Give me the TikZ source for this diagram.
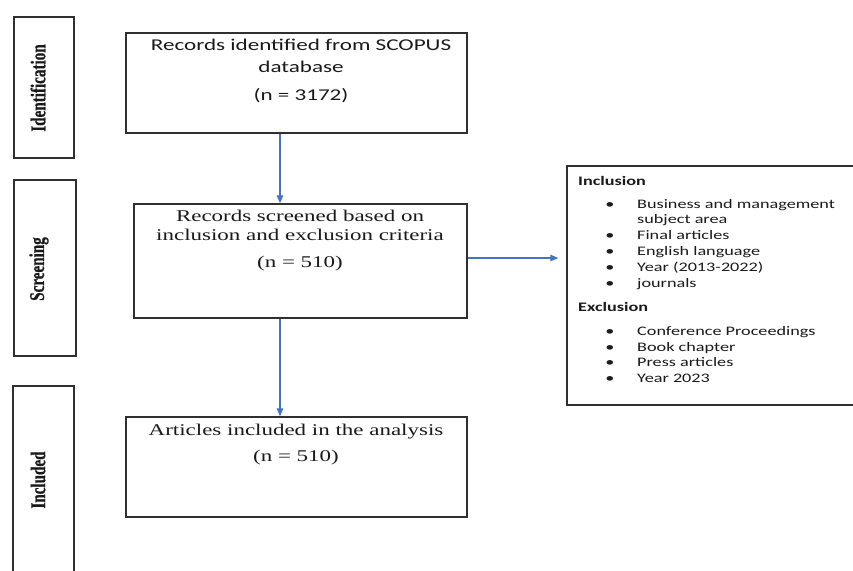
\documentclass[tikz,border=0pt]{standalone}
\usepackage{fontspec}
\setmainfont{Liberation Serif}
\newfontfamily\srfwide[FakeStretch=1.4]{Liberation Serif}
\newfontfamily\calwide[FakeStretch=1.4]{Carlito}
\newfontfamily\lblnarrow[FakeStretch=0.72,FakeBold=0.6]{Liberation Serif}
\usetikzlibrary{arrows.meta,calc}
\definecolor{arrowblue}{HTML}{4472C4}
\definecolor{frame}{HTML}{303030}
\definecolor{ink}{HTML}{1A1A1A}
\begin{document}
\begin{tikzpicture}[x=1pt,y=-1pt,
  box/.style={draw=frame,line width=1.4pt,rectangle,inner sep=0pt},
  stagelabel/.style={rotate=90,font=\lblnarrow\bfseries\fontsize{21}{24}\selectfont,text=ink,inner sep=0pt},
  serifline/.style={anchor=base,font=\srfwide\fontsize{16.4}{19}\selectfont,text=ink,inner sep=0pt},
  sansline/.style={anchor=base,font=\calwide\fontsize{16.5}{19}\selectfont,text=ink,inner sep=0pt},
  listline/.style={anchor=base west,font=\calwide\fontsize{13}{15}\selectfont,text=ink,inner sep=0pt},
  listhead/.style={anchor=base west,font=\calwide\bfseries\fontsize{13}{15}\selectfont,text=ink,inner sep=0pt},
  listdot/.style={anchor=base,font=\calwide\fontsize{13}{15}\selectfont,text=ink,inner sep=0pt},
  flow/.style={draw=arrowblue,line width=1.2pt,-{Triangle[length=8pt,width=6.5pt]}}]
\useasboundingbox (0,0) rectangle (853,570);
\clip (0,0) rectangle (853,570);
\fill[white] (0,0) rectangle (853,570);

% stage labels
\node[box,minimum width=60pt,minimum height=141pt] (sid) at (44,87.5) {};
\node[box,minimum width=62pt,minimum height=176pt] (sscr) at (45,268) {};
\node[box,minimum width=61pt,minimum height=189pt] (sinc) at (43.5,480.5) {};
\node[stagelabel] (lid) at (38,88) {Identification};
\node[stagelabel] (lscr) at (39,269) {Screening};
\node[stagelabel] (linc) at (38,480) {Included};

% main boxes
\node[box,minimum width=341pt,minimum height=100pt] (b1) at (296.5,83) {};
\node[box,minimum width=333pt,minimum height=114pt] (b2) at (300.5,261) {};
\node[box,minimum width=341pt,minimum height=100pt] (b3) at (296.5,467) {};
\node[box,minimum width=293pt,minimum height=239pt] (side) at (713.5,285.5) {};

% box texts
\node[sansline] (t1a) at (301,50.5) {Records identified from SCOPUS};
\node[sansline] (t1b) at (301,72.5) {database};
\node[sansline] (t1c) at (301,100.5) {(n = 3172)};
\node[serifline] (t2a) at (300,221) {Records screened based on};
\node[serifline] (t2b) at (300,240) {inclusion and exclusion criteria};
\node[serifline] (t2c) at (300,267) {(n = 510)};
\node[serifline] (t3a) at (296,435) {Articles included in the analysis};
\node[serifline] (t3b) at (296,461) {(n = 510)};

% side list
\node[listhead] (hin) at (578,185) {Inclusion};
\foreach \yy/\tx [count=\i] in {208/Business and management,239/Final articles,255/English language,271/Year (2013-2022),287/journals}
  {\node[listdot] (di\i) at (610,\yy) {\textbullet};
   \node[listline] (li\i) at (637,\yy) {\tx};}
\node[listline] (li1b) at (637,223) {subject area};
\node[listhead] (hex) at (578,311) {Exclusion};
\foreach \yy/\tx [count=\i] in {335/Conference Proceedings,351/Book chapter,366/Press articles,382/Year 2023}
  {\node[listdot] (de\i) at (610,\yy) {\textbullet};
   \node[listline] (le\i) at (637,\yy) {\tx};}

% connectors
\coordinate (ax) at (280,0);
\coordinate (ay) at (0,258);
\draw[flow] (ax |- b1.south) -- (ax |- b2.north);
\draw[flow] (ax |- b2.south) -- (ax |- b3.north);
\draw[flow,shorten >=8pt] (b2.east |- ay) -- (side.west |- ay);
\end{tikzpicture}
\end{document}
